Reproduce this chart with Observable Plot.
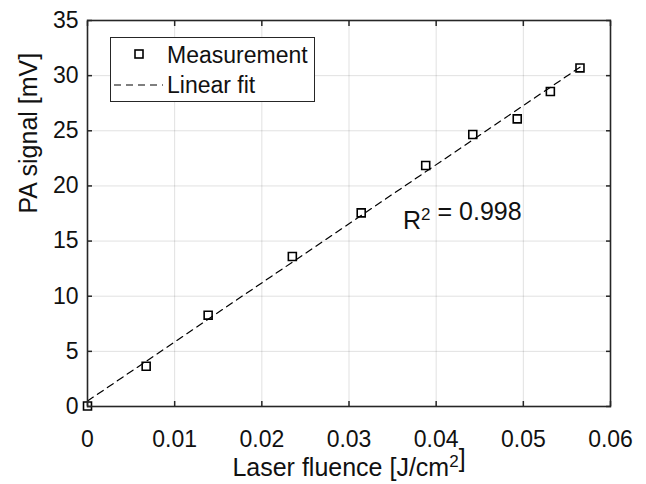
<!DOCTYPE html>
<html><head><meta charset="utf-8">
<script src="https://cdn.jsdelivr.net/npm/d3@7"></script>
<script src="https://cdn.jsdelivr.net/npm/@observablehq/plot@0.6"></script>
<style>
body{margin:0;background:#fff;}
#wrap{position:relative;width:646px;height:484px;font-family:"Liberation Sans",Arial,sans-serif;}
#wrap svg{display:block;}
#legend{position:absolute;left:0;top:0;pointer-events:none;}
</style></head><body><div id="wrap"></div>
<script>
// ---- data ----
const fluence = [0, 0.00673, 0.01384, 0.0235, 0.0314, 0.0388, 0.0442, 0.0493, 0.0531, 0.0565];
const signal  = [0.05, 3.65, 8.28, 13.6, 17.56, 21.85, 24.66, 26.08, 28.56, 30.7];
const xTicks = [0, 0.01, 0.02, 0.03, 0.04, 0.05, 0.06];
const xTickLabels = ["0", "0.01", "0.02", "0.03", "0.04", "0.05", "0.06"];
const yTicks = [0, 5, 10, 15, 20, 25, 30, 35];
const yTickLabels = ["0", "5", "10", "15", "20", "25", "30", "35"];
const xLabel = ["Laser fluence [J/cm^2]"];
const yLabel = ["PA signal [mV]"];
const seriesNames = ["Measurement", "Linear fit"];
const annoText = ["R^2 = 0.998"];
const annoX = [0.0362];
const annoY = [16.8];

const ink = "#262626";
const font = "Liberation Sans, Arial, Helvetica, sans-serif";
const data = fluence.map((x, i) => ({x, y: signal[i]}));

const plot = Plot.plot({
  width: 646, height: 484,
  marginLeft: 87, marginRight: 36, marginTop: 20, marginBottom: 78,
  style: {fontFamily: font, fontSize: "23px", color: "#111", background: "white", overflow: "visible"},
  x: {domain: [0, 0.06]},
  y: {domain: [0, 35]},
  marks: [
    Plot.gridX(xTicks, {stroke: "#000", strokeOpacity: 0.12, strokeWidth: 1}),
    Plot.gridY(yTicks, {stroke: "#000", strokeOpacity: 0.12, strokeWidth: 1}),
    Plot.linearRegressionY(data, {x: "x", y: "y", ci: 0, stroke: "black", strokeWidth: 1.2, strokeDasharray: "7,5"}),
    Plot.dot(data, {x: "x", y: "y", symbol: "square", r: 4.5, stroke: "black", strokeWidth: 1.6, fill: "none"}),
    Plot.axisX(xTicks, {anchor: "bottom", tickSize: -5, tickPadding: 29, stroke: ink, strokeWidth: 1.5,
      tickFormat: d => xTickLabels[xTicks.indexOf(d)], label: null, fontSize: 23, fill: "#111"}),
    Plot.axisX(xTicks, {anchor: "top", tickSize: -5, stroke: ink, strokeWidth: 1.5, tickFormat: () => "", label: null}),
    Plot.axisY(yTicks, {anchor: "left", tickSize: -5, tickPadding: 14, stroke: ink, strokeWidth: 1.5,
      tickFormat: d => yTickLabels[yTicks.indexOf(d)], label: null, fontSize: 23, fill: "#111"}),
    Plot.axisY(yTicks, {anchor: "right", tickSize: -5, stroke: ink, strokeWidth: 1.5, tickFormat: () => "", label: null}),
    Plot.frame({stroke: ink, strokeWidth: 1.6}),
    Plot.text(xLabel, {text: d => d, frameAnchor: "bottom", dy: 61, lineAnchor: "middle", fontSize: 25, fill: "#111"}),
    Plot.text(yLabel, {text: d => d, frameAnchor: "left", rotate: -90, dx: -59, lineAnchor: "middle", fontSize: 25, fill: "#111"}),
    Plot.text(annoText, {text: d => d, x: (d, i) => annoX[i], y: (d, i) => annoY[i], textAnchor: "start", lineAnchor: "middle", fontSize: 25, fill: "#111"})
  ]
});
document.getElementById("wrap").appendChild(plot);

// superscripts: "^2" -> raised smaller 2
d3.select(plot).selectAll("text").each(function() {
  const t = this.textContent;
  if (!t.includes("^")) return;
  const parts = t.split(/\^(\d)/);
  const sel = d3.select(this);
  sel.text(null);
  parts.forEach((p, k) => {
    if (p === "") return;
    if (k % 2 === 1) {
      sel.append("tspan").attr("dy", -9).attr("font-size", 17).text(p);
      sel.append("tspan").attr("dy", 9).text("");
    } else {
      sel.append("tspan").text(p);
    }
  });
});

// legend box
const lg = d3.select("#wrap").append("svg").attr("id", "legend").attr("width", 646).attr("height", 484)
  .style("font-family", font);
lg.append("rect").attr("x", 110.5).attr("y", 37.5).attr("width", 204).attr("height", 64)
  .attr("fill", "white").attr("stroke", ink).attr("stroke-width", 1);
lg.append("rect").attr("x", 135).attr("y", 50).attr("width", 8).attr("height", 8)
  .attr("fill", "none").attr("stroke", "black").attr("stroke-width", 1.6);
lg.append("line").attr("x1", 114).attr("x2", 163).attr("y1", 85).attr("y2", 85)
  .attr("stroke", "black").attr("stroke-width", 1.2).attr("stroke-dasharray", "7,5");
lg.append("text").attr("x", 167).attr("y", 63).attr("font-size", 23).attr("fill", "#111").text(seriesNames[0]);
lg.append("text").attr("x", 167).attr("y", 93).attr("font-size", 23).attr("fill", "#111").text(seriesNames[1]);
</script></body></html>
